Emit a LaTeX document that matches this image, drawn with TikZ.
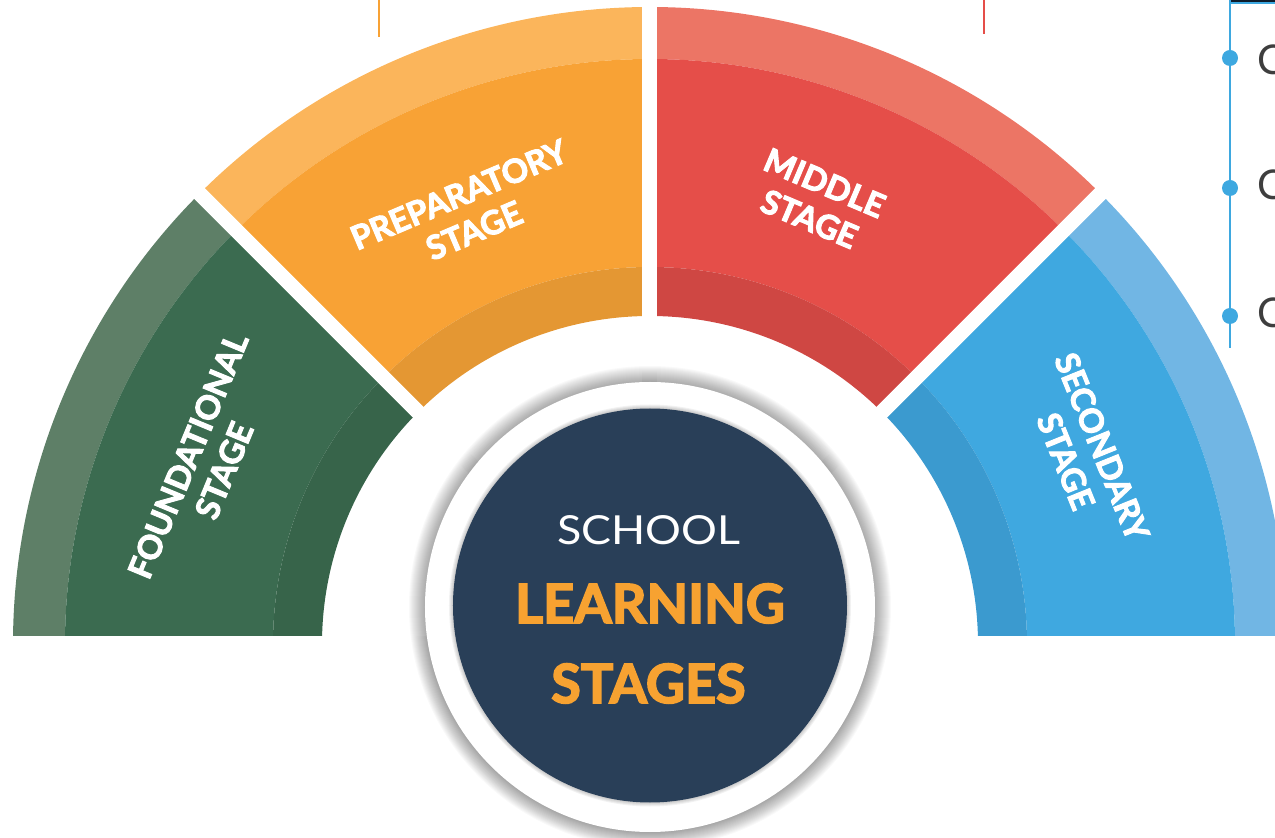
\documentclass[tikz,border=0pt]{standalone}
\usepackage{fontspec}
\setmainfont{Lato}
\newfontfamily\heavy{Lato}[UprightFont={* Bold}, BoldFont={* Bold}, FakeBold=3]
\definecolor{fdOuter}{HTML}{5E7F67}
\definecolor{fdMain}{HTML}{3B6B50}
\definecolor{fdInner}{HTML}{37644A}
\definecolor{prOuter}{HTML}{FBB55B}
\definecolor{prMain}{HTML}{F8A235}
\definecolor{prInner}{HTML}{E49733}
\definecolor{mdOuter}{HTML}{EC7565}
\definecolor{mdMain}{HTML}{E54E49}
\definecolor{mdInner}{HTML}{CF4743}
\definecolor{scOuter}{HTML}{71B6E4}
\definecolor{scMain}{HTML}{3FA8E0}
\definecolor{scInner}{HTML}{3B9ACF}
\definecolor{navy}{HTML}{293F58}
\definecolor{txtOrange}{HTML}{F7A231}
\definecolor{sideBlue}{HTML}{3EA8E0}
\definecolor{sideGray}{HTML}{3E3E3E}
\definecolor{barDark}{HTML}{0E1C2B}
\newcommand\ringsector[5]{%
  \fill[#1] (#2:#4) arc[start angle=#2, end angle=#3, radius=#4]
    -- (#3:#5) arc[start angle=#3, end angle=#2, radius=#5] -- cycle;}
\begin{document}
\begin{tikzpicture}[x=1pt,y=1pt,
  seglabel/.style={text=white, font=\fontsize{33}{39}\selectfont\heavy,
    align=center, inner sep=0pt},
  bigword/.style={text=txtOrange, font=\fontsize{54}{54}\selectfont\heavy,
    inner sep=0pt, anchor=base},
  sideletter/.style={text=sideGray, font=\fontsize{41}{41}\selectfont,
    inner sep=0pt, anchor=base west},
  sidedot/.style={circle, fill=sideBlue, minimum size=16pt, inner sep=0pt}]
\clip (-650,-194) rectangle (625,644);
\useasboundingbox (-650,-194) rectangle (625,644);
% segments
\ringsector{fdOuter}{135}{180}{585}{637}
\ringsector{fdMain}{135}{180}{377}{585}
\ringsector{fdInner}{135}{180}{328}{377}
\ringsector{prOuter}{90}{135}{585}{637}
\ringsector{prMain}{90}{135}{377}{585}
\ringsector{prInner}{90}{135}{328}{377}
\ringsector{mdOuter}{45}{90}{585}{637}
\ringsector{mdMain}{45}{90}{377}{585}
\ringsector{mdInner}{45}{90}{328}{377}
\ringsector{scOuter}{0}{45}{585}{637}
\ringsector{scMain}{0}{45}{377}{585}
\ringsector{scInner}{0}{45}{328}{377}
% gaps
\coordinate (o) at (0,0);
\coordinate (g1) at (45:700);
\coordinate (g2) at (90:700);
\coordinate (g3) at (135:700);
\draw[white, line width=15pt] (o) -- (g1);
\draw[white, line width=15pt] (o) -- (g2);
\draw[white, line width=15pt] (o) -- (g3);
\fill[white] (-660,-200) rectangle (660,7.5);
% labels
\node[seglabel, rotate=67.5] (fd) at (-444,181) {FOUNDATIONAL\\STAGE};
\node[seglabel, rotate=23] (pr) at (-183.5,431.5) {PREPARATORY\\STAGE};
\node[seglabel, rotate=-23] (md) at (167,443) {MIDDLE\\STAGE};
\node[seglabel, rotate=-68] (sc) at (434,190) {SECONDARY\\STAGE};
% centre disc with shadow
\foreach \i in {1,...,16}{\fill[black, opacity=0.025] (0,37) circle (225+\i);}
\fill[white] (0,37) circle (225);
\foreach \i in {1,...,4}{\fill[black, opacity=0.05] (0,38.5) circle (197+\i);}
\fill[navy] (0,38.5) circle (197);
\node[text=white, font=\fontsize{40}{40}\selectfont, inner sep=0pt, anchor=base]
  (school) at (-1,99) {\scalebox{1.12}[1]{SCHOOL}};
\node[bigword] (learning) at (0,21) {LEARNING};
\node[bigword] (stages) at (-1.5,-59) {STAGES};
% top guide lines
\coordinate (ot) at (-271,644);
\coordinate (ob) at (-271,607);
\draw[prMain, line width=2pt] (ot) -- (ob);
\coordinate (rt) at (334,644);
\coordinate (rb) at (334,610);
\draw[mdMain, line width=1.5pt] (rt) -- (rb);
% side timeline
\node[sidedot] (d1) at (580,586) {};
\node[sidedot] (d2) at (580,456) {};
\node[sidedot] (d3) at (580,328) {};
\coordinate (lt) at (580,644);
\coordinate (lb) at (580,296);
\draw[sideBlue, line width=2pt] (lt) -- (d1) -- (d2) -- (d3) -- (lb);
\fill[barDark, draw=sideBlue, line width=1.5pt] (580,641) rectangle (640,650);
\node[sideletter] (c1) at (607,569.5) {C};
\node[sideletter] (c2) at (607,444.5) {C};
\node[sideletter] (c3) at (607,316.5) {C};
\end{tikzpicture}
\end{document}
